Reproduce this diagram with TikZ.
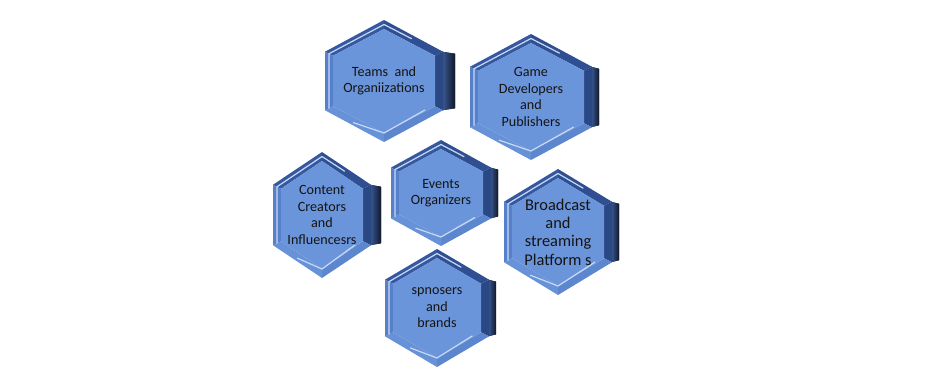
\documentclass[tikz,border=0pt]{standalone}
\usepackage{fontspec}
\setmainfont{Carlito}
\definecolor{face}{HTML}{6B95DA}
\definecolor{bevUL}{HTML}{3558A0}
\definecolor{bevUR}{HTML}{2F4F92}
\definecolor{bevR}{HTML}{2A4884}
\definecolor{bevLR}{HTML}{5C87CF}
\definecolor{bevLL}{HTML}{6892D8}
\definecolor{bevL}{HTML}{5680C9}
\definecolor{sideL}{HTML}{3A5A95}
\definecolor{sideR}{HTML}{10182B}
\definecolor{hilite}{HTML}{C8D9F5}
\definecolor{txt}{HTML}{141414}
\tikzset{
  hexlabel/.style={align=center, text=txt, inner sep=0pt},
  smalltext/.style={font=\fontsize{10.6}{12.4}\selectfont},
  bigtext/.style={font=\fontsize{12.3}{13.7}\selectfont},
  hiline/.style={draw=hilite, line width=0.9pt, line join=round, line cap=round}
}
\newcommand\hexcell[8]{%
\begin{scope}[shift={(#2,#3)}]
\pgfmathsetmacro\hs{0.48*#5}
\pgfmathsetmacro\ihw{#4-8}
\pgfmathsetmacro\ihh{#5-9}
\pgfmathsetmacro\ihs{\hs-4}
\pgfmathsetmacro\mhw{#4-4}
\pgfmathsetmacro\mhh{#5-4.5}
\pgfmathsetmacro\mhs{\hs-2}
\fill[left color=sideL, right color=sideR] (#4-1,-\hs) -- (#4+#6,-\hs+2) -- (#4+#6,\hs-2) -- (#4-1,\hs) -- cycle;
\fill[bevUL] (-#4,-\hs) -- (0,-#5) -- (0,-\ihh) -- (-\ihw,-\ihs) -- cycle;
\fill[bevUR] (0,-#5) -- (#4,-\hs) -- (\ihw,-\ihs) -- (0,-\ihh) -- cycle;
\fill[bevR] (#4,-\hs) -- (#4,\hs) -- (\ihw,\ihs) -- (\ihw,-\ihs) -- cycle;
\fill[bevLR] (#4,\hs) -- (0,#5) -- (0,\ihh) -- (\ihw,\ihs) -- cycle;
\fill[bevLL] (0,#5) -- (-#4,\hs) -- (-\ihw,\ihs) -- (0,\ihh) -- cycle;
\fill[bevL] (-#4,\hs) -- (-#4,-\hs) -- (-\ihw,-\ihs) -- (-\ihw,\ihs) -- cycle;
\fill[face] (0,-\ihh) -- (\ihw,-\ihs) -- (\ihw,\ihs) -- (0,\ihh) -- (-\ihw,\ihs) -- (-\ihw,-\ihs) -- cycle;
\path[hiline] (-\mhw,\mhs) -- (-\mhw,-\mhs) -- (0,-\mhh) -- (\mhw*0.5,-\mhh*0.75);
\path[hiline] (-\ihw*0.6,\ihh*0.8) -- (0,\ihh) -- (\ihw*0.8,\ihs*1.15);
\end{scope}
\node[hexlabel, #7] (#1) at (#2,#3) {#8};
}
\begin{document}
\begin{tikzpicture}[x=0.75pt,y=-0.75pt]
\useasboundingbox (0,0) rectangle (940,387);
\hexcell{teams}{384}{81}{59}{61}{12}{smalltext}{Teams\ \ and\\Organiizations}
\hexcell{gamedev}{531}{97}{61}{63}{7}{smalltext}{Game\\Developers\\and\\Publishers}
\hexcell{creators}{322}{215}{49}{63}{10}{smalltext}{Content\\Creators\\and\\Influencesrs}
\hexcell{events}{441}{193}{50}{53}{7}{smalltext}{Events\\Organizers}
\hexcell{broadcast}{558}{232}{54}{63}{7}{bigtext}{Broadcast\\and\\streaming\\Platform s}
\hexcell{sponsors}{437}{308}{52}{59}{7}{smalltext}{spnosers\\and\\brands}
\end{tikzpicture}
\end{document}
